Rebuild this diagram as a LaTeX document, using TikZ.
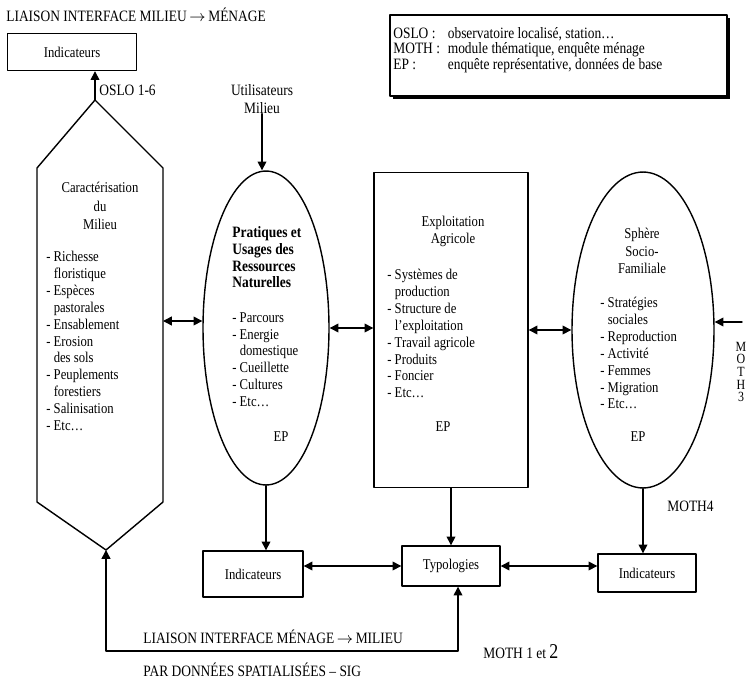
\documentclass[tikz,border=0pt]{standalone}
\usepackage{fontspec}
\setmainfont{Liberation Serif}[FakeStretch=0.85]
\usetikzlibrary{arrows.meta,shapes.geometric}
\tikzset{
    lab/.style={
        font=\fontsize{9}{10}\selectfont, inner sep=0pt
    },
    txt/.style={
        font=\fontsize{8.5}{9.6}\selectfont, inner sep=0pt
    },
    box/.style={draw, line width=0.8pt, inner sep=0pt, font=\fontsize{8.5}{10}\selectfont},
    oval/.style={draw, ellipse, line width=0.8pt, inner sep=0pt},
    arr/.style={-{Triangle[length=5pt,width=5pt]}, line width=0.8pt},
    darr/.style={{Triangle[length=5pt,width=5pt]}-{Triangle[length=5pt,width=5pt]}, line width=0.8pt}
}

\begin{document}
\begin{tikzpicture}[x=0.02cm, y=-0.02cm, line cap=round, line join=round]

\useasboundingbox (0,0) rectangle (750,679);

\def\ind{\hphantom{- }}
\def\arw{\,$\rightarrow$\,}

% legend
\fill (393,18) rectangle (730,99);
\draw[fill=white, line width=0.6pt] (390,15) rectangle (727,96);
\node[txt, align=left, anchor=north west, font=\fontsize{9}{7.6}\selectfont] (leg) at (393,27)
  {\makebox[31pt][l]{OSLO :}observatoire localisé, station\dots\\
   \makebox[31pt][l]{MOTH :}module thématique, enquête ménage\\
   \makebox[31pt][l]{EP :}enquête représentative, données de base};

% top left
\node[lab, anchor=west] (ttl) at (6,15) {LIAISON INTERFACE MILIEU\arw MÉNAGE};
\node[box, minimum width=2.58cm, minimum height=0.74cm] (ind1) at (72,52) {Indicateurs};
\node[lab, anchor=west] (oslo) at (99,90) {OSLO 1-6};

% hexagon: milieu
\coordinate (hT) at (95,100);
\coordinate (hB) at (106,550);
\coordinate (hR) at (163,321);
\draw[line width=0.8pt] (hT) -- (163,168) -- (163,502) -- (hB) -- (37,502) -- (37,168) -- cycle;
\node[txt, align=center, anchor=north, font=\fontsize{8.5}{10.5}\selectfont] (car) at (100,182) {Caractérisation\\du\\Milieu};
\node[txt, align=left, anchor=north west] (carl) at (46,251)
  {- Richesse\\\ind floristique\\- Espèces\\\ind pastorales\\- Ensablement\\- Erosion\\\ind des sols\\
   - Peuplements\\\ind forestiers\\- Salinisation\\- Etc\dots};
\draw[arr] (hT) -- (hT |- ind1.south);

% pratiques
\node[oval, minimum width=2.52cm, minimum height=6.28cm] (e1) at (266,328) {};
\node[lab, align=center] (util) at (262,99) {Utilisateurs\\Milieu};
\node[txt, align=left, anchor=north west, font=\fontsize{9}{9.6}\selectfont\bfseries] (prat) at (232,226)
  {Pratiques et\\Usages des\\Ressources\\Naturelles};
\node[txt, align=left, anchor=north west] (pratl) at (232,312)
  {- Parcours\\- Energie\\\ind domestique\\- Cueillette\\- Cultures\\- Etc\dots};
\node[txt] (ep1) at (281,437) {EP};
\draw[arr] (util.south) -- (util.south |- e1.north);

% exploitation
\node[box, minimum width=3.08cm, minimum height=6.3cm] (expl) at (451,330) {};
\node[txt, align=center, anchor=north, font=\fontsize{8.5}{9.8}\selectfont] (expt) at (453,216) {Exploitation\\Agricole};
\node[txt, align=left, anchor=north west] (expll) at (387,269)
  {- Systèmes de\\\ind production\\- Structure de\\\ind l’exploitation\\- Travail agricole\\- Produits\\- Foncier\\- Etc\dots};
\node[txt] (ep2) at (443,427) {EP};

% sphere
\node[oval, minimum width=2.84cm, minimum height=6.32cm] (e3) at (643,330) {};
\node[txt, align=center, anchor=north, font=\fontsize{8.5}{10}\selectfont] (sph) at (642,228) {Sphère\\Socio-\\Familiale};
\node[txt, align=left, anchor=north west] (sphl) at (600,297)
  {- Stratégies\\\ind sociales\\- Reproduction\\- Activité\\- Femmes\\- Migration\\- Etc\dots};
\node[txt] (ep3) at (638,437) {EP};
\coordinate (m3) at (742,322);
\draw[arr] (m3) -- (m3 -| e3.east);
\node[txt, align=center, font=\fontsize{8}{7.2}\selectfont] (moth3) at (741,372) {M\\O\\T\\H\\3};

% links between blocks
\draw[darr] (hR) -- (hR -| e1.west);
\draw[darr] (e1.east) -- (e1.east -| expl.west);
\draw[darr] (expl.east) -- (expl.east -| e3.west);

% bottom row
\node[box, minimum width=2cm, minimum height=0.92cm] (ind2) at (253,574) {Indicateurs};
\node[box, minimum width=1.96cm, minimum height=0.8cm] (typo) at (451,566) {Typologies};
\node[box, minimum width=1.96cm, minimum height=0.76cm] (ind3) at (647,573) {Indicateurs};
\node[lab, anchor=west] (moth4) at (667,506) {MOTH4};

\foreach \a/\b in {e1/ind2, expl/typo, e3/ind3}
  \draw[arr] (\a.south) -- (\a.south |- \b.north);

\draw[darr] (typo.west -| ind2.east) -- (typo.west);
\draw[darr] (typo.east) -- (typo.east -| ind3.west);

% menage -> milieu
\coordinate (bl) at (106,651);
\coordinate (br) at (458,651);
\draw[darr] (hB) -- (bl) -- (br) -- (br |- typo.south);
\node[lab, anchor=west] (liais) at (143,637) {LIAISON INTERFACE MÉNAGE\arw MILIEU};
\node[lab, anchor=west] (sig) at (143,670) {PAR DONNÉES SPATIALISÉES – SIG};
\node[lab, anchor=west] (moth12) at (483,652) {MOTH 1 et {\fontsize{12}{12}\selectfont 2}};

\end{tikzpicture}
\end{document}
